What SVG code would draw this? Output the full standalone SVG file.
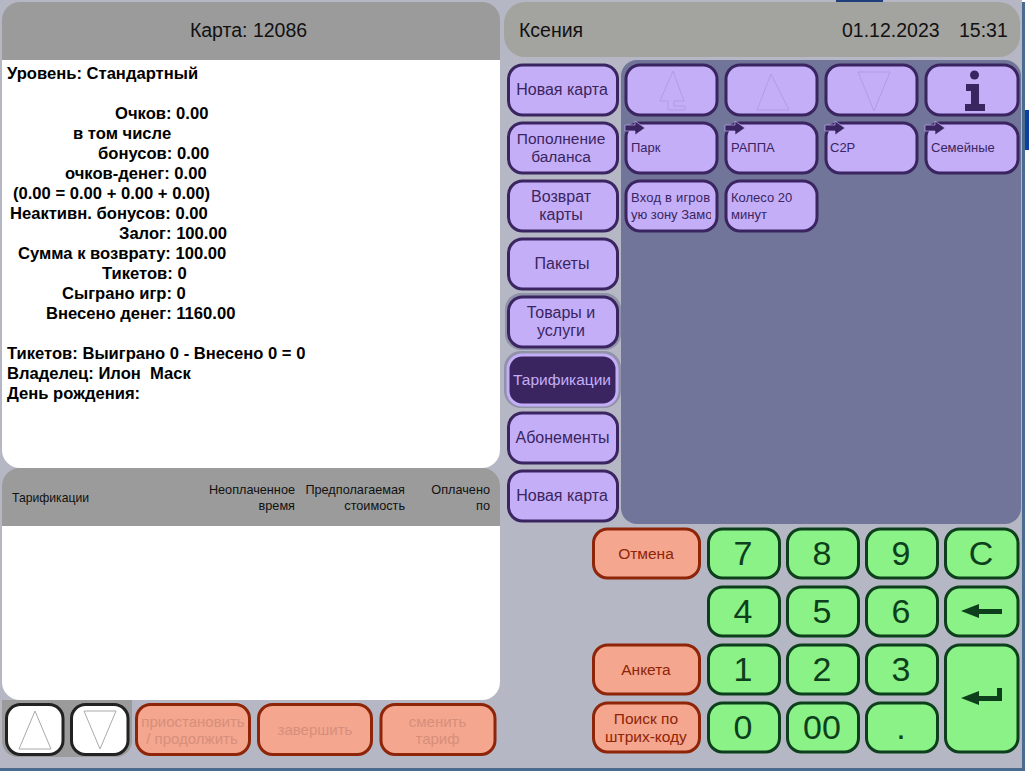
<svg xmlns="http://www.w3.org/2000/svg" width="1029" height="775" viewBox="0 0 1029 775">
<style>
text{font-family:"Liberation Sans",Arial,sans-serif}
.b{font-weight:bold;font-size:16.6px;fill:#000;white-space:pre}
.h{font-size:19.500px;fill:#111}
.th{font-size:12.700px;fill:#111}
.pb{fill:#c4aef8;stroke:#3a2560;stroke-width:3}
.pt{font-size:16px;fill:#3a2560;text-anchor:middle}
.ps{font-size:13px;fill:#3a2560}
.gb{fill:#8af286;stroke:#0d3f1c;stroke-width:3}
.gt{font-size:34px;fill:#0d3f1c;text-anchor:middle}
.rb{fill:#f4a68e;stroke:#8e2408;stroke-width:3}
.rt{font-size:15.500px;fill:#8e2408;text-anchor:middle}
.rd{font-size:15px;fill:#d68f7c;text-anchor:middle}
.wb{fill:#fff;stroke:#222;stroke-width:3}
.tri{fill:none;stroke:#aaa;stroke-width:1}
.trp{fill:none;stroke:#b29ce6;stroke-width:1}
.ar{fill:#3a2560;stroke:#c4aef8;stroke-width:.7}
</style>
<defs><clipPath id="entry-clip"><rect x="628" y="183" width="83" height="46"/></clipPath></defs>
<rect width="1029" height="775" fill="#fff"/>
<rect id="bg" x="0" y="0" width="1022" height="768" fill="#b5b8c4"/>
<rect x="1022" y="2" width="3" height="767" fill="#4a6a8e"/>
<rect x="0" y="768" width="1025" height="3" fill="#4a6a8e"/>
<rect x="1025" y="110" width="4" height="40" fill="#0f3f9e"/>
<rect x="836" y="0" width="47" height="2" fill="#1f3f7a"/>

<g id="card-header">
<path d="M2 60V20a18 18 0 0 1 18-18H482a18 18 0 0 1 18 18V60Z" fill="#9b9b9b"/>
<text class="h" x="248.500" y="37" text-anchor="middle">Карта: 12086</text>
</g>
<g id="card-info">
<path d="M2 60H500V450a18 18 0 0 1-18 18H20a18 18 0 0 1-18-18Z" fill="#fff"/>
<text class="b" x="7" y="79">Уровень: Стандартный</text>
<text class="b" x="115" y="119">Очков: 0.00</text>
<text class="b" x="73" y="139">в том числе</text>
<text class="b" x="98" y="159">бонусов: 0.00</text>
<text class="b" x="65" y="179">очков-денег: 0.00</text>
<text class="b" x="13" y="199">(0.00 = 0.00 + 0.00 + 0.00)</text>
<text class="b" x="10" y="219">Неактивн. бонусов: 0.00</text>
<text class="b" x="119" y="239">Залог: 100.00</text>
<text class="b" x="18" y="259">Сумма к возврату: 100.00</text>
<text class="b" x="102" y="279">Тикетов: 0</text>
<text class="b" x="62" y="299">Сыграно игр: 0</text>
<text class="b" x="46" y="319">Внесено денег: 1160.00</text>
<text class="b" x="7" y="359">Тикетов: Выиграно 0 - Внесено 0 = 0</text>
<text class="b" x="7" y="379">Владелец: Илон  Маск</text>
<text class="b" x="7" y="399">День рождения:</text>
</g>
<g id="tariff-table">
<path d="M2 526V486a18 18 0 0 1 18-18H482a18 18 0 0 1 18 18V526Z" fill="#9b9b9b"/>
<path d="M2 526H500V682a18 18 0 0 1-18 18H20a18 18 0 0 1-18-18Z" fill="#fff"/>
<text class="th" x="12" y="502" style="font-size:12.200px">Тарификации</text>
<text class="th" x="295" y="494" text-anchor="end">Неоплаченное</text>
<text class="th" x="295" y="510" text-anchor="end">время</text>
<text class="th" x="405" y="494" text-anchor="end">Предполагаемая</text>
<text class="th" x="405" y="510" text-anchor="end">стоимость</text>
<text class="th" x="490" y="494" text-anchor="end">Оплачено</text>
<text class="th" x="490" y="510" text-anchor="end">по</text>
</g>
<g id="scroll-group">
<path d="M2 700H132V741a16 16 0 0 1-16 16H18a16 16 0 0 1-16-16Z" fill="#9b9b9b"/>
<g id="scroll-up"><rect class="wb" x="6.500" y="704.500" width="56.500" height="50" rx="14"/><path class="tri" d="M35 711L19 749H51Z"/></g>
<g id="scroll-down"><rect class="wb" x="71.500" y="704.500" width="56.500" height="50" rx="14"/><path class="tri" d="M84 711H116L100 749Z"/></g>
</g>
<g id="btn-pause"><rect class="rb" x="136.500" y="704.500" width="113" height="50" rx="14"/><text class="rd" x="193" y="727">приостановить</text><text class="rd" x="192" y="744">/ продолжить</text></g>
<g id="btn-finish"><rect class="rb" x="258.500" y="704.500" width="113" height="50" rx="14"/><text class="rd" x="315" y="735">завершить</text></g>
<g id="btn-change"><rect class="rb" x="381" y="704.500" width="114" height="50" rx="14"/><text class="rd" x="437.500" y="727">сменить</text><text class="rd" x="437.500" y="744">тариф</text></g>

<g id="user-header">
<rect x="504" y="2" width="516" height="55" rx="21" fill="#a3a3a0"/>
<text class="h" x="519" y="37">Ксения</text>
<text class="h" x="842" y="37">01.12.2023</text>
<text class="h" x="959" y="37">15:31</text>
</g>
<g id="tile-panel">
<rect x="621" y="60" width="400" height="464" rx="16" fill="#717599"/>
</g>
<g id="menu-1"><rect class="pb" x="508.500" y="65" width="109" height="50" rx="14"/><text class="pt" x="562" y="95">Новая карта</text></g>
<g id="menu-2"><rect class="pb" x="508.500" y="123" width="109" height="50" rx="14"/><text class="pt" x="561" y="144" style="font-size:15.500px">Пополнение</text><text class="pt" x="561" y="162" style="font-size:15.500px">баланса</text></g>
<g id="menu-3"><rect class="pb" x="508.500" y="181" width="109" height="50" rx="14"/><text class="pt" x="561" y="202">Возврат</text><text class="pt" x="561" y="220">карты</text></g>
<g id="menu-4"><rect class="pb" x="508.500" y="239" width="109" height="50" rx="14"/><text class="pt" x="562" y="269">Пакеты</text></g>
<g id="menu-5"><rect x="505" y="293" width="116" height="57" rx="16" fill="#8f92a8"/><rect class="pb" x="508.500" y="297" width="109" height="50" rx="14"/><text class="pt" x="561" y="318">Товары и</text><text class="pt" x="561" y="336">услуги</text></g>
<g id="menu-6"><rect x="504" y="351" width="117" height="57" rx="17" fill="#8f92a8"/><rect x="508" y="355" width="109" height="50" rx="14" fill="#3a2560" stroke="#c4aef8" stroke-width="3"/><text class="pt" x="562" y="385" style="fill:#c4aef8;font-size:15.500px">Тарификации</text></g>
<g id="menu-7"><rect class="pb" x="508.500" y="413" width="109" height="50" rx="14"/><text class="pt" x="562.500" y="443">Абонементы</text></g>
<g id="menu-8"><rect class="pb" x="508.500" y="471" width="109" height="50" rx="14"/><text class="pt" x="562" y="501">Новая карта</text></g>

<g id="tile-home"><rect class="pb" x="626" y="65" width="91" height="50" rx="14"/><path class="trp" d="M673 71L660 101H668V110H685V106H674V101H684Z"/></g>
<g id="tile-up"><rect class="pb" x="726" y="65" width="91" height="50" rx="14"/><path class="trp" d="M771 74L757 110H789Z"/></g>
<g id="tile-down"><rect class="pb" x="826" y="65" width="91" height="50" rx="14"/><path class="trp" d="M858 72H890L874 111Z"/></g>
<g id="tile-info"><rect class="pb" x="926" y="65" width="92" height="50" rx="14"/>
<circle cx="974.500" cy="75" r="4.500" fill="#3a2560"/><path d="M966 84H979V104H985V111H965V104H971V91H966Z" fill="#3a2560"/></g>
<g id="tile-park"><rect class="pb" x="626" y="123" width="91" height="50" rx="14"/><path class="ar" d="M625 125H635V121L645 128L635 135V131H625Z"/><text class="ps" x="631" y="152">Парк</text></g>
<g id="tile-rappa"><rect class="pb" x="726" y="123" width="91" height="50" rx="14"/><path class="ar" d="M725 125H735V121L745 128L735 135V131H725Z"/><text class="ps" x="731" y="152">РАППА</text></g>
<g id="tile-c2p"><rect class="pb" x="826" y="123" width="91" height="50" rx="14"/><path class="ar" d="M825 125H835V121L845 128L835 135V131H825Z"/><text class="ps" x="830" y="152">C2P</text></g>
<g id="tile-family"><rect class="pb" x="926" y="123" width="92" height="50" rx="14"/><path class="ar" d="M925 125H935V121L945 128L935 135V131H925Z"/><text class="ps" x="931" y="152">Семейные</text></g>
<g id="tile-entry"><rect class="pb" x="626" y="181" width="91" height="50" rx="14"/><g clip-path="url(#entry-clip)"><text class="ps" x="631" y="202" letter-spacing=".2">Вход в игров</text><text class="ps" x="631" y="219">ую зону Замо</text></g></g>
<g id="tile-wheel"><rect class="pb" x="726" y="181" width="91" height="50" rx="14"/><text class="ps" x="731" y="202">Колесо 20</text><text class="ps" x="731" y="219">минут</text></g>

<g id="btn-cancel"><rect class="rb" x="593.500" y="529" width="106" height="49" rx="14"/><text class="rt" x="646" y="559">Отмена</text></g>
<g id="btn-form"><rect class="rb" x="593.500" y="645" width="106" height="49" rx="14"/><text class="rt" x="646" y="675">Анкета</text></g>
<g id="btn-search"><rect class="rb" x="593.500" y="703" width="106" height="49" rx="14"/><text class="rt" x="646" y="724">Поиск по</text><text class="rt" x="646" y="742">штрих-коду</text></g>

<g id="key-7"><rect class="gb" x="708.500" y="529" width="71" height="49" rx="14"/><text class="gt" x="743" y="565">7</text></g>
<g id="key-8"><rect class="gb" x="787.500" y="529" width="71" height="49" rx="14"/><text class="gt" x="822" y="565">8</text></g>
<g id="key-9"><rect class="gb" x="866.500" y="529" width="71" height="49" rx="14"/><text class="gt" x="901" y="565">9</text></g>
<g id="key-c"><rect class="gb" x="945.500" y="529" width="72.500" height="49" rx="14"/><text class="gt" x="981" y="565">C</text></g>
<g id="key-4"><rect class="gb" x="708.500" y="587" width="71" height="49" rx="14"/><text class="gt" x="743" y="623">4</text></g>
<g id="key-5"><rect class="gb" x="787.500" y="587" width="71" height="49" rx="14"/><text class="gt" x="822" y="623">5</text></g>
<g id="key-6"><rect class="gb" x="866.500" y="587" width="71" height="49" rx="14"/><text class="gt" x="901" y="623">6</text></g>
<g id="key-back"><rect class="gb" x="945.500" y="587" width="72.500" height="49" rx="14"/><path d="M961 611L979 604V609H1002V614H979V618Z" fill="#0d3f1c"/></g>
<g id="key-1"><rect class="gb" x="708.500" y="645" width="71" height="49" rx="14"/><text class="gt" x="743" y="681">1</text></g>
<g id="key-2"><rect class="gb" x="787.500" y="645" width="71" height="49" rx="14"/><text class="gt" x="822" y="681">2</text></g>
<g id="key-3"><rect class="gb" x="866.500" y="645" width="71" height="49" rx="14"/><text class="gt" x="901" y="681">3</text></g>
<g id="key-enter"><rect class="gb" x="945.500" y="645" width="72.500" height="107" rx="14"/><path d="M961 698L979 691V696H997V688H1002V701H979V705Z" fill="#0d3f1c"/></g>
<g id="key-0"><rect class="gb" x="708.500" y="703" width="71" height="49" rx="14"/><text class="gt" x="743" y="739">0</text></g>
<g id="key-00"><rect class="gb" x="787.500" y="703" width="71" height="49" rx="14"/><text class="gt" x="822" y="739">00</text></g>
<g id="key-dot"><rect class="gb" x="866.500" y="703" width="71" height="49" rx="14"/><text class="gt" x="901" y="739">.</text></g>
<g id="connectors"/>
</svg>
